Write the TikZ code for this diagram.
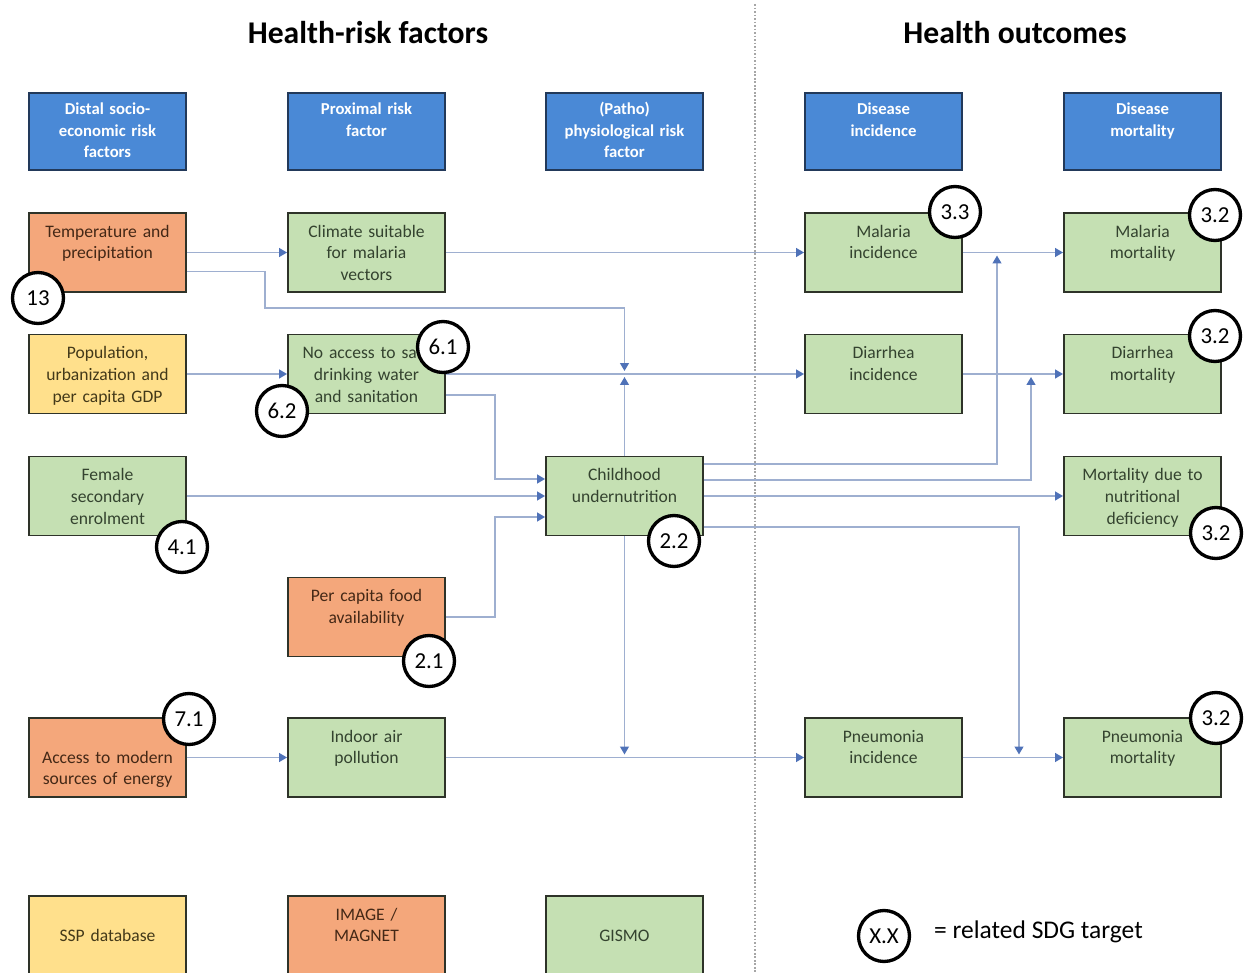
\documentclass[tikz,border=0pt]{standalone}
\usepackage{fontspec}
\setmainfont{Carlito}
\usetikzlibrary{arrows.meta,calc}
\definecolor{hdrblue}{HTML}{4A89D6}
\definecolor{hdrline}{HTML}{22395A}
\definecolor{boxline}{HTML}{2E3329}
\definecolor{gfill}{HTML}{C5E0B3}
\definecolor{ofill}{HTML}{F4A77B}
\definecolor{yfill}{HTML}{FFE08C}
\definecolor{gtext}{HTML}{34432F}
\definecolor{otext}{HTML}{442816}
\definecolor{ytext}{HTML}{433919}
\definecolor{linec}{HTML}{9EAFD0}
\definecolor{tipc}{HTML}{4F72B8}
\tikzset{
  box/.style={draw=boxline, line width=1.1pt, inner sep=0pt,
    minimum width=3.14cm, minimum height=1.58cm, text width=3.14cm,
    align=center, text height=0.48cm, text depth=1.1cm,
    font=\fontsize{10}{12.5}\selectfont},
  hdr/.style={box, fill=hdrblue, draw=hdrline, text=white,
    minimum height=1.54cm, text height=0.44cm, text depth=1.1cm,
    font=\fontsize{9.5}{12}\selectfont\bfseries},
  gbox/.style={box, fill=gfill, text=gtext},
  obox/.style={box, fill=ofill, text=otext},
  ybox/.style={box, fill=yfill, text=ytext},
  lowtext/.style={text height=0.9cm, text depth=0.68cm},
  sdg/.style={circle, draw=black, line width=1.9pt, fill=white,
    minimum size=1.02cm, inner sep=0pt, font=\fontsize{13}{15}\selectfont},
  conn/.style={draw=linec, line width=0.9pt,
    -{Triangle[length=4.5pt,width=5pt,color=tipc]}},
  modarrow/.style={conn, shorten >=0.06cm},
  title/.style={font=\fontsize{18}{21}\selectfont\bfseries}
}
\begin{document}
\begin{tikzpicture}[x=0.02cm,y=-0.02cm]
  \useasboundingbox (0,0) rectangle (1249,973);
  \draw[gray!70,line width=1pt,densely dotted] (755,4) -- (755,973);
  % titles
  \node[title] (ttlrisk) at (368,33) {Health-risk factors};
  \node[title] (ttlout) at (1015,33) {Health outcomes};
  % column headers
  \node[hdr] (hd1) at (107.5,131.5) {Distal socio-\\economic risk\\factors};
  \node[hdr] (hd2) at (366.5,131.5) {Proximal risk\\factor};
  \node[hdr] (hd3) at (624.5,131.5) {(Patho)\\physiological risk\\factor};
  \node[hdr] (hd4) at (883.5,131.5) {Disease\\incidence};
  \node[hdr] (hd5) at (1142.5,131.5) {Disease\\mortality};
  % factors and outcomes
  \node[obox] (temp) at (107.5,252.5) {Temperature and\\precipitation};
  \node[gbox] (clim) at (366.5,252.5) {Climate suitable\\for malaria\\vectors};
  \node[gbox] (malinc) at (883.5,252.5) {Malaria\\incidence};
  \node[gbox] (malmort) at (1142.5,252.5) {Malaria\\mortality};
  \node[ybox] (pop) at (107.5,374) {Population,\\urbanization and\\per capita GDP};
  \node[gbox] (water) at (366.5,374) {No access to safe\\drinking water\\and sanitation};
  \node[gbox] (diainc) at (883.5,374) {Diarrhea\\incidence};
  \node[gbox] (diamort) at (1142.5,374) {Diarrhea\\mortality};
  \node[gbox] (fem) at (107.5,496) {Female\\secondary\\enrolment};
  \node[gbox] (child) at (624.5,496) {Childhood\\undernutrition};
  \node[gbox] (nutmort) at (1142.5,496) {Mortality due to\\nutritional\\deficiency};
  \node[obox] (food) at (366.5,617) {Per capita food\\availability};
  \node[obox,lowtext] (energy) at (107.5,757.5) {Access to modern\\sources of energy};
  \node[gbox] (indoor) at (366.5,757.5) {Indoor air\\pollution};
  \node[gbox] (pninc) at (883.5,757.5) {Pneumonia\\incidence};
  \node[gbox] (pnmort) at (1142.5,757.5) {Pneumonia\\mortality};
  % junctions on the links
  \coordinate (jwat) at (624.5,374);
  \coordinate (jmal) at (997,252.5);
  \coordinate (jdia) at (1031,374);
  \coordinate (jpn1) at (624.5,757.5);
  \coordinate (jpn2) at (1019,757.5);
  % links
  \draw[conn] (temp.east) -- (clim.west);
  \draw[modarrow] ($(temp.east)+(0,19)$) -| (265,308) -| (jwat);
  \draw[conn] (pop.east) -- (water.west);
  \draw[conn] (water.east) -- (diainc.west);
  \draw[conn] ($(water.east)+(0,21)$) -| (495,479) -- ($(child.west)+(0,-17)$);
  \draw[conn] (fem.east) -- (child.west);
  \draw[conn] (food.east) -| (495,517) -- ($(child.west)+(0,21)$);
  \draw[modarrow] (child.north) -- (jwat);
  \draw[modarrow] (child.south) -- (jpn1);
  \draw[conn] (clim.east) -- (malinc.west);
  \draw[conn] (malinc.east) -- (malmort.west);
  \draw[modarrow] ($(child.east)+(0,-32)$) -| (jmal);
  \draw[conn] (diainc.east) -- (diamort.west);
  \draw[modarrow] ($(child.east)+(0,-16)$) -| (jdia);
  \draw[conn] (child.east) -- (nutmort.west);
  \draw[modarrow] ($(child.east)+(0,31)$) -| (jpn2);
  \draw[conn] (energy.east) -- (indoor.west);
  \draw[conn] (indoor.east) -- (pninc.west);
  \draw[conn] (pninc.east) -- (pnmort.west);
  % SDG targets
  \node[sdg] (s13) at (38,298) {13};
  \node[sdg] (s61) at (443,347) {6.1};
  \node[sdg] (s62) at (282,411) {6.2};
  \node[sdg] (s41) at (182,547) {4.1};
  \node[sdg] (s22) at (674,541) {2.2};
  \node[sdg] (s21) at (429,661) {2.1};
  \node[sdg] (s71) at (189,719) {7.1};
  \node[sdg] (s33) at (955,212) {3.3};
  \node[sdg] (s32a) at (1215,215) {3.2};
  \node[sdg] (s32b) at (1215,336) {3.2};
  \node[sdg] (s32c) at (1216,533) {3.2};
  \node[sdg] (s32d) at (1216,718) {3.2};
  % legend
  \begin{scope}
    \clip (0,0) rectangle (1249,973);
    \node[ybox,lowtext] (ssp) at (107.5,935.5) {SSP database};
    \node[obox] (image) at (366.5,935.5) {IMAGE /\\MAGNET};
    \node[gbox,lowtext] (gismo) at (624.5,935.5) {GISMO};
  \end{scope}
  \node[sdg] (sxx) at (884,936) {X.X};
  \node[right,font=\fontsize{14.5}{17}\selectfont] (sdgkey) at (928,932) {= related SDG target};
\end{tikzpicture}
\end{document}
